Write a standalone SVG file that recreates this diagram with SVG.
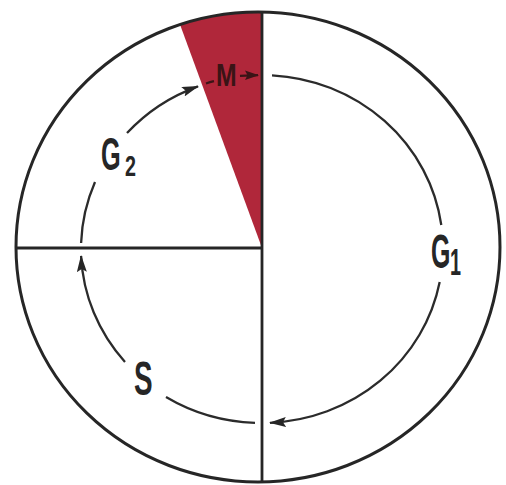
<svg xmlns="http://www.w3.org/2000/svg" width="506" height="485" viewBox="0 0 506 485">
  <defs>
    <style>
      .frame { fill: none; stroke: #262626; stroke-width: 3; }
      .div { stroke: #262626; stroke-width: 2.8; fill: none; }
      .cyc { fill: none; stroke: #2b2b2b; stroke-width: 2.3; }
      .lbl { font-family: "Liberation Sans", Arial, sans-serif; font-weight: bold; fill: #262626; }
    </style>
    <marker id="ah" viewBox="0 0 17 10" refX="16" refY="5" markerWidth="17" markerHeight="10" markerUnits="userSpaceOnUse" orient="auto">
      <path d="M0,0 L17,5 L0,10 L3,5 Z" fill="#262626"/>
    </marker>
  </defs>
  <rect width="506" height="485" fill="#ffffff"/>

  <g id="phase-M">
    <path d="M262,248 L180,24.6 A242,235 0 0 1 262,12 Z" fill="#b0273a"/>
    <text class="lbl" transform="translate(216,86) scale(0.8,1)" font-size="31" style="fill:#3a1416">M</text>
  </g>

  <g id="frame">
    <ellipse class="frame" cx="258" cy="247" rx="242" ry="235"/>
    <line class="div" x1="262" y1="12" x2="262" y2="482"/>
    <line class="div" x1="16" y1="248" x2="262" y2="248"/>
  </g>

  <g id="phase-G1">
    <text class="lbl" transform="translate(431,268) scale(0.52,1)" font-size="48">G</text>
    <text class="lbl" transform="translate(450,275) scale(0.55,1)" font-size="36">1</text>
  </g>
  <g id="phase-G2">
    <text class="lbl" transform="translate(101,170) scale(0.55,1)" font-size="46">G</text>
    <text class="lbl" transform="translate(125,176) scale(0.68,1)" font-size="29">2</text>
  </g>
  <g id="phase-S">
    <text class="lbl" transform="translate(134,395) scale(0.58,1)" font-size="48">S</text>
  </g>

  <g id="connectors">
    <path class="cyc" d="M272,75.3 A181,174 0 0 1 441.3,225"/>
    <path class="cyc" d="M439.7,282 A181,174 0 0 1 270,422.8" marker-end="url(#ah)"/>
    <path class="cyc" d="M255,422.8 A181,174 0 0 1 166,397"/>
    <path class="cyc" d="M125,362 A181,174 0 0 1 81.1,256" marker-end="url(#ah)"/>
    <path class="cyc" d="M81.1,243 A181,174 0 0 1 95,182"/>
    <path class="cyc" d="M127,133 A181,174 0 0 1 198,86.3" marker-end="url(#ah)"/>
    <path d="M206,83.5 A181,174 0 0 1 214,81.2" fill="none" stroke="#3a1416" stroke-width="2.3"/>
    <path d="M240,75.8 L258,75.2" fill="none" stroke="#3a1416" stroke-width="2.3"/>
    <path d="M245,70.5 L259,75.2 L245,79.9 L247.5,75.2 Z" fill="#3a1416"/>
  </g>
</svg>
